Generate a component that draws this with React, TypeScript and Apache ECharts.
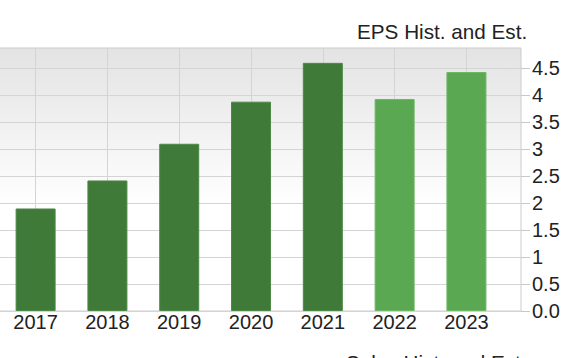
import React, { useEffect, useRef } from 'react';
import * as echarts from 'echarts';

const years = [2017, 2018, 2019, 2020, 2021, 2022, 2023];
const eps = [1.9, 2.42, 3.1, 3.88, 4.6, 3.93, 4.43];
const isEstimate = [false, false, false, false, false, true, true];
const yTicks = [0, 0.5, 1, 1.5, 2, 2.5, 3, 3.5, 4, 4.5];
const chartTitle = 'EPS Hist. and Est.';
const nextTitle = 'Sales Hist. and Est.';

const FONT = '"Liberation Sans", Arial, Helvetica, sans-serif';

export default function App() {
  const ref = useRef<HTMLDivElement>(null);
  useEffect(() => {
    document.body.style.margin = '0';
    const chart = echarts.init(ref.current as HTMLDivElement, null, { renderer: 'svg' });
    chart.setOption({
      animation: false,
      grid: {
        left: -1,
        right: 62,
        top: 48,
        bottom: 47,
        show: true,
        borderColor: '#cccccc',
        borderWidth: 1,
        outerBoundsMode: 'none',
        backgroundColor: {
          type: 'linear',
          x: 0,
          y: 0,
          x2: 0,
          y2: 1,
          colorStops: [
            { offset: 0, color: '#e3e3e3' },
            { offset: 0.6, color: '#ffffff' },
            { offset: 1, color: '#ffffff' },
          ],
        },
      },
      xAxis: {
        type: 'value',
        min: 2016.49,
        max: 2023.76,
        axisLine: { show: false },
        axisTick: { show: false, customValues: years },
        axisLabel: {
          customValues: years,
          formatter: (v: number) => String(v),
          fontSize: 20,
          color: '#222222',
          fontFamily: FONT,
          margin: 1,
        },
        splitLine: { show: true, lineStyle: { color: '#d4d4d4', width: 1 } },
      },
      yAxis: {
        type: 'value',
        position: 'right',
        min: 0,
        max: 4.875,
        axisLine: { show: false },
        axisTick: { show: true, length: 9, customValues: yTicks, lineStyle: { color: '#c8c8c8' } },
        axisLabel: {
          customValues: yTicks,
          formatter: (v: number) => (v === 0 ? '0.0' : String(v)),
          fontSize: 20,
          color: '#222222',
          fontFamily: FONT,
          margin: 11,
        },
        splitLine: { show: true, lineStyle: { color: '#d4d4d4', width: 1 } },
      },
      series: [
        {
          type: 'bar',
          barWidth: 40,
          data: years.map((y, i) => ({
            value: [y, eps[i]],
            itemStyle: {
              color: isEstimate[i] ? '#5aa852' : '#3f7a39',
              borderColor: isEstimate[i] ? '#6cb664' : '#4e8848',
              borderWidth: 1,
            },
          })),
        },
      ],
      graphic: [
        {
          type: 'text',
          left: 357,
          top: 21,
          style: { text: chartTitle, fontSize: 20.7, fill: '#222222', fontFamily: FONT },
        },
        {
          type: 'text',
          left: 346,
          top: 352,
          style: { text: nextTitle, fontSize: 20.7, fill: '#222222', fontFamily: FONT },
        },
      ],
    });
    return () => chart.dispose();
  }, []);
  return <div ref={ref} style={{ width: 583, height: 358 }} />;
}
